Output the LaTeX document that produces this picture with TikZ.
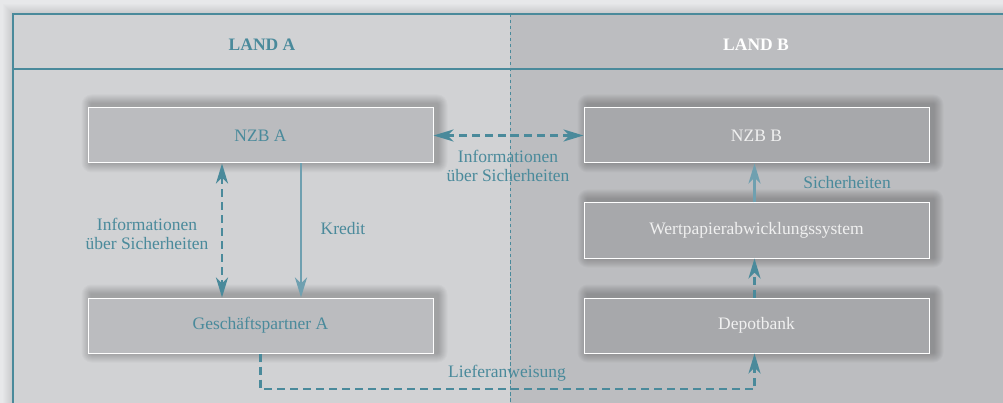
\documentclass[tikz,border=0pt]{standalone}
\usepackage{fontspec}
\setmainfont{Liberation Serif}
\usetikzlibrary{arrows.meta}
\definecolor{ecbteal}{HTML}{4A8A9B}
\definecolor{ecblight}{HTML}{6FA0B0}
\definecolor{paneA}{HTML}{D1D2D4}
\definecolor{paneB}{HTML}{BCBDC0}
\definecolor{boxA}{HTML}{BBBCBF}
\definecolor{boxB}{HTML}{A7A8AB}
\definecolor{outside}{HTML}{E7E8EA}
\pgfdeclarelayer{back}
\pgfdeclarelayer{shade}
\pgfsetlayers{back,shade,main}
\begin{document}
\begin{tikzpicture}[x=1pt,y=-1pt,
    font=\rmfamily\fontsize{17.5pt}{18.5pt}\selectfont,
    box/.style={draw=white, line width=1pt, minimum width=345pt, minimum height=55pt, inner sep=0pt},
    boxa/.style={box, fill=boxA, text=ecbteal},
    boxb/.style={box, fill=boxB, text=white!94!black},
    tip/.tip={Stealth[length=20pt,width=12pt,inset=6pt]},
    flow/.style={line width=2.6pt, draw=ecblight, -tip, color=ecblight},
    infoflow/.style={line width=2.6pt, draw=ecbteal, color=ecbteal, dash pattern=on 8pt off 5pt},
    lbl/.style={text=ecbteal, align=center, inner sep=0pt}]
    \useasboundingbox (0,0) rectangle (1003,403);
    \clip (0,0) rectangle (1003,403);
    % boxes
    \node[boxa] (nzba) at (260.5,135.5) {NZB A};
    \node[boxb] (nzbb) at (756.5,135.5) {NZB B};
    \node[boxb] (wps) at (756.5,230.5) {Wertpapierabwicklungssystem};
    \node[boxa] (ga) at (260.5,325.5) {Geschäftspartner A};
    \node[boxb] (dep) at (756.5,325.5) {Depotbank};
    \begin{pgfonlayer}{back}
    \fill[outside] (0,0) rectangle (1003,403);
    \foreach \i in {1,...,10}
      \fill[black, opacity=0.01] (13-\i,14-\i) rectangle (1020,420);
    \fill[paneA] (13,14) rectangle (1020,420);
    \fill[paneB] (510,14) rectangle (1020,420);
    \end{pgfonlayer}
    \begin{pgfonlayer}{shade}
    \foreach \n in {nzba,nzbb,wps,ga,dep}
      \foreach \i in {1,...,10}
        \fill[black, opacity=0.022, rounded corners=\i pt]
          ([shift={(4-\i,-3-\i)}]\n.north west) rectangle ([shift={(4+\i,-1+\i)}]\n.south east);
    \end{pgfonlayer}
    % frame
    \draw[ecbteal, line width=1.5pt] (1020,14) -- (13,14) -- (13,420);
    \draw[ecbteal, line width=1.5pt] (13,69) -- (1020,69);
    \draw[ecbteal, line width=1pt, dash pattern=on 3.5pt off 2.5pt] (510,14) -- (510,420);
    \node[lbl, font=\rmfamily\fontsize{17.5pt}{18.5pt}\selectfont\bfseries] (landa) at (262,45) {LAND A};
    \node[lbl, text=white, font=\rmfamily\fontsize{17.5pt}{18.5pt}\selectfont\bfseries] (landb) at (756,45) {LAND B};
    % connectors
    \draw[infoflow, tip-tip] (nzba.east) -- (nzbb.west);
    \node[lbl] (infob) at (508,166) {Informationen\\über Sicherheiten};
    \draw[infoflow, tip-tip] ([xshift=-38.5pt]nzba.south) -- ([xshift=-38.5pt]ga.north);
    \node[lbl] (infoa) at (147,234) {Informationen\\über Sicherheiten};
    \draw[flow] ([xshift=40.5pt]nzba.south) -- ([xshift=40.5pt]ga.north);
    \node[lbl] (kredit) at (343,229) {Kredit};
    \draw[flow] ([xshift=-2pt]wps.north) -- ([xshift=-2pt]nzbb.south);
    \node[lbl] (sich) at (847,183) {Sicherheiten};
    \draw[infoflow, -tip] ([xshift=-2pt]dep.north) -- ([xshift=-2pt]wps.south);
    \draw[infoflow, -tip] (ga.south) -- ++(0,35.5) -| ([xshift=-2pt]dep.south);
    \node[lbl] (lief) at (507,373) {Lieferanweisung};
\end{tikzpicture}
\end{document}
